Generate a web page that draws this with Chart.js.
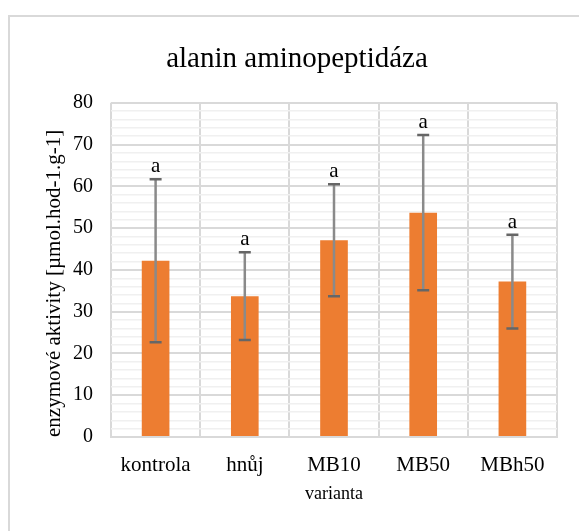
<!DOCTYPE html>
<html>
<head>
<meta charset="utf-8">
<script src="https://cdn.jsdelivr.net/npm/chart.js@4.4.1/dist/chart.umd.min.js"></script>
<style>
  html, body { margin: 0; padding: 0; background: #fff; }
  #wrap { position: relative; width: 579px; height: 531px; overflow: hidden; }
  #frame { position: absolute; left: 8px; top: 15px; width: 600px; height: 560px;
           border-top: 2px solid #d9d9d9; border-left: 2px solid #d9d9d9; box-sizing: border-box; }
  canvas { position: absolute; left: 0; top: 0; }
</style>
</head>
<body>
<div id="wrap">
  <div id="frame"></div>
  <canvas id="chart" width="579" height="531"></canvas>
</div>
<script>
// data
const categories = ['kontrola', 'hnůj', 'MB10', 'MB50', 'MBh50'];
const means = [42.2, 33.7, 47.1, 53.7, 37.2];
const errors = [19.5, 10.5, 13.4, 18.6, 11.2];
const letters = ['a', 'a', 'a', 'a', 'a'];

const serif = "'Liberation Serif', 'Times New Roman', serif";

// error bars + significance letters
const errorBarPlugin = {
  id: 'errorBars',
  afterDatasetsDraw(chart) {
    const ctx = chart.ctx;
    const meta = chart.getDatasetMeta(0);
    const y = chart.scales.y;
    ctx.save();
    meta.data.forEach((bar, i) => {
      const x = bar.x;
      const top = y.getPixelForValue(means[i] + errors[i]);
      const bottom = y.getPixelForValue(means[i] - errors[i]);
      ctx.strokeStyle = '#8a8a8a';
      ctx.lineWidth = 2.5;
      ctx.beginPath();
      ctx.moveTo(x, top);
      ctx.lineTo(x, bottom);
      ctx.stroke();
      ctx.strokeStyle = '#666666';
      ctx.beginPath();
      ctx.moveTo(x - 6, top);
      ctx.lineTo(x + 6, top);
      ctx.moveTo(x - 6, bottom);
      ctx.lineTo(x + 6, bottom);
      ctx.stroke();
      ctx.fillStyle = '#000';
      ctx.font = '21px ' + serif;
      ctx.textAlign = 'center';
      ctx.textBaseline = 'alphabetic';
      ctx.fillText(letters[i], x, top - 7);
    });
    ctx.restore();
  }
};

new Chart(document.getElementById('chart'), {
  type: 'bar',
  data: {
    labels: categories,
    datasets: [{
      data: means,
      backgroundColor: '#ed7d31',
      categoryPercentage: 1,
      barPercentage: 0.31
    }]
  },
  options: {
    responsive: false,
    animation: false,
    layout: { padding: { left: 37, right: 22, top: 0, bottom: 0 } },
    plugins: {
      legend: { display: false },
      tooltip: { enabled: false },
      title: {
        display: true,
        text: 'alanin aminopeptidáza',
        color: '#000',
        font: { family: serif, size: 29, weight: 'normal' },
        padding: { top: 42, bottom: 26 }
      }
    },
    scales: {
      x: {
        grid: { color: '#d9d9d9', lineWidth: 2, drawTicks: false, offset: true },
        border: { color: '#d9d9d9', width: 2 },
        ticks: { color: '#000', font: { family: serif, size: 21 }, padding: 16 },
        title: {
          display: true, text: 'varianta', color: '#000',
          font: { family: serif, size: 18 }, padding: { top: 0, bottom: 26 }
        },
        afterFit(scale) { scale.height = 94; }
      },
      y: {
        min: 0, max: 80,
        grid: {
          drawTicks: false,
          color: ctx => ctx.tick && ctx.tick.value % 10 === 0 ? '#d9d9d9' : '#f0f0f0',
          lineWidth: ctx => ctx.tick && ctx.tick.value % 10 === 0 ? 2 : 1.5
        },
        border: { display: false },
        ticks: {
          stepSize: 2, autoSkip: false, color: '#000', padding: 18,
          font: { family: serif, size: 20 },
          callback: v => v % 10 === 0 ? v : ''
        },
        title: {
          display: true, align: 'start', text: 'enzymové aktivity [µmol.hod-1.g-1]', color: '#000',
          font: { family: serif, size: 21 }, padding: { top: 5, bottom: 0 }
        },
        afterFit(scale) { scale.width = 74; }
      }
    }
  },
  plugins: [errorBarPlugin]
});
</script>
</body>
</html>
